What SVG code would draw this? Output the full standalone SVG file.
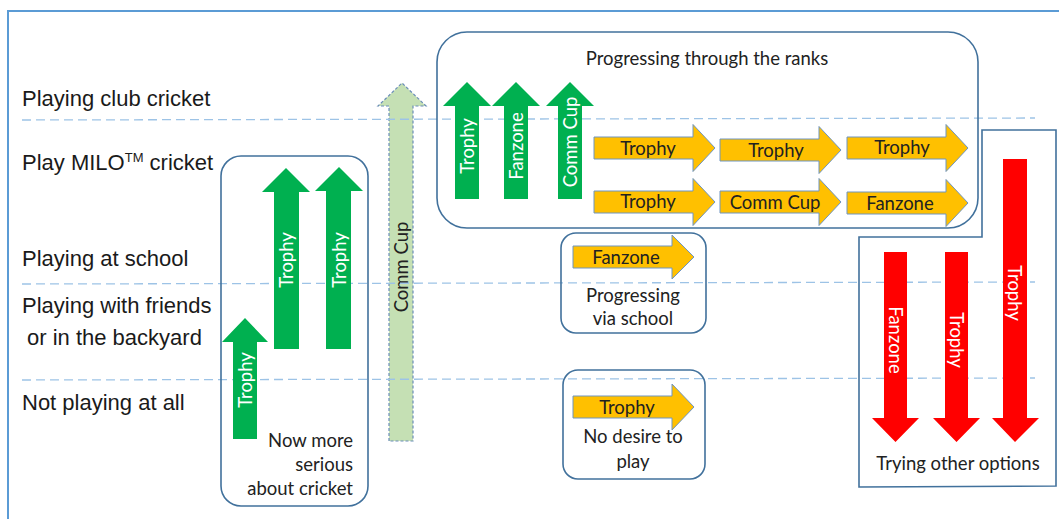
<svg xmlns="http://www.w3.org/2000/svg" width="1059" height="519" viewBox="0 0 1059 519">
<style>
.lbl{font-family:"Liberation Sans",Arial,sans-serif;font-size:22px;fill:#1a1a1a}
.c{font-family:Lato,"Open Sans",sans-serif;font-size:18.5px;text-anchor:middle}
.dark{fill:#222}
.wt{fill:#fff}
.dash{stroke:#9DC3E6;stroke-width:1.3;stroke-dasharray:9 5;fill:none}
.box{fill:none;stroke:#41719C;stroke-width:1.6}
.g{fill:#00B050}
.o{fill:#FFC000;stroke:#6F95C0;stroke-width:1}
.r{fill:#FF0000}
.lg{fill:#C5E0B4;stroke:#6A8DB8;stroke-width:1.2;stroke-dasharray:3 2}
</style>
<rect x="0" y="0" width="1059" height="519" fill="#fff"/>
<rect x="8" y="11" width="1100" height="600" fill="none" stroke="#5B9BD5" stroke-width="2"/>
<g id="commcup">
<path class="lg" d="M389,441 L389,106 L378,106 L402,83 L426,106 L413,106 L413,441 Z"/>
<text class="c dark" transform="translate(401,267) rotate(-90)" dominant-baseline="central">Comm Cup</text>
</g>
<g id="levels">
<line class="dash" x1="22" y1="120" x2="1035" y2="118"/>
<line class="dash" x1="22" y1="284" x2="1035" y2="282"/>
<line class="dash" x1="22" y1="380" x2="1035" y2="378"/>
<text class="lbl" x="22" y="106">Playing club cricket</text>
<text class="lbl" x="22" y="170">Play MILO<tspan font-size="13" dy="-8">TM</tspan><tspan dy="8"> cricket</tspan></text>
<text class="lbl" x="22" y="266">Playing at school</text>
<text class="lbl" x="22" y="313">Playing with friends</text>
<text class="lbl" x="27" y="345">or in the backyard</text>
<text class="lbl" x="22" y="410">Not playing at all</text>
</g>
<g id="serious">
<rect class="box" x="221" y="156" width="147" height="350" rx="20"/>
<path class="g" d="M233,439 L233,342 L222,342 L245,318 L268,342 L257,342 L257,439 Z"/>
<text class="c wt" transform="translate(245,380) rotate(-90)" dominant-baseline="central">Trophy</text>
<path class="g" d="M274,349 L274,192 L262,192 L286,168 L310,192 L299,192 L299,349 Z"/>
<text class="c wt" transform="translate(286,260) rotate(-90)" dominant-baseline="central">Trophy</text>
<path class="g" d="M326,349 L326,191 L315,191 L339,167 L363,191 L351,191 L351,349 Z"/>
<text class="c wt" transform="translate(339,260) rotate(-90)" dominant-baseline="central">Trophy</text>
<text class="c dark" x="353" y="447" style="text-anchor:end">Now more</text>
<text class="c dark" x="353" y="471" style="text-anchor:end">serious</text>
<text class="c dark" x="353" y="495" style="text-anchor:end">about cricket</text>
</g>
<g id="ranks">
<rect class="box" x="437" y="32" width="541" height="196" rx="30"/>
<text class="c dark" x="707" y="65">Progressing through the ranks</text>
<path class="g" d="M455,199 L455,106 L443,106 L467,82 L491,106 L479,106 L479,199 Z"/>
<text class="c wt" transform="translate(467,146) rotate(-90)" dominant-baseline="central">Trophy</text>
<path class="g" d="M504,199 L504,106 L492,106 L516,82 L540,106 L528,106 L528,199 Z"/>
<text class="c wt" transform="translate(516,146) rotate(-90)" dominant-baseline="central">Fanzone</text>
<path class="g" d="M558,199 L558,106 L546,106 L570,82 L594,106 L582,106 L582,199 Z"/>
<text class="c wt" transform="translate(570,142) rotate(-90)" dominant-baseline="central">Comm Cup</text>
<path class="o" d="M594,137 L693,137 L693,124.5 L715,148 L693,171.5 L693,159 L594,159 Z"/>
<text class="c dark" x="648" y="155">Trophy</text>
<path class="o" d="M720,139 L819,139 L819,126.5 L841,150 L819,173.5 L819,161 L720,161 Z"/>
<text class="c dark" x="776" y="157">Trophy</text>
<path class="o" d="M847,137 L946,137 L946,124.5 L968,148 L946,171.5 L946,159 L847,159 Z"/>
<text class="c dark" x="902" y="154">Trophy</text>
<path class="o" d="M594,191 L693,191 L693,178.5 L715,202 L693,225.5 L693,213 L594,213 Z"/>
<text class="c dark" x="648" y="208">Trophy</text>
<path class="o" d="M720,191 L819,191 L819,178.5 L841,202 L819,225.5 L819,213 L720,213 Z"/>
<text class="c dark" x="775" y="209">Comm Cup</text>
<path class="o" d="M847,192 L946,192 L946,179.5 L968,203 L946,226.5 L946,214 L847,214 Z"/>
<text class="c dark" x="900" y="210">Fanzone</text>
</g>
<g id="school">
<rect class="box" x="561" y="233" width="145" height="100" rx="15"/>
<path class="o" d="M573,246 L672,246 L672,235 L694,257 L672,279 L672,268 L573,268 Z"/>
<text class="c dark" x="626" y="264">Fanzone</text>
<text class="c dark" x="633" y="302">Progressing</text>
<text class="c dark" x="633" y="325">via school</text>
</g>
<g id="nodesire">
<rect class="box" x="563" y="370" width="142" height="109" rx="15"/>
<path class="o" d="M573,396 L672,396 L672,384 L694,407 L672,430 L672,418 L573,418 Z"/>
<text class="c dark" x="627" y="414">Trophy</text>
<text class="c dark" x="633" y="443">No desire to</text>
<text class="c dark" x="633" y="468">play</text>
</g>
<g id="other">
<path class="box" d="M982,130 L1056,130 L1056,486 L859,487 L859,237 L982,237 Z"/>
<path class="r" d="M884,252 L907,252 L907,418 L919,418 L895.5,442 L872,418 L884,418 Z"/>
<text class="c wt" transform="translate(895.5,340) rotate(90)" dominant-baseline="central">Fanzone</text>
<path class="r" d="M945,252 L968,252 L968,418 L980,418 L956.5,442 L933,418 L945,418 Z"/>
<text class="c wt" transform="translate(956.5,340) rotate(90)" dominant-baseline="central">Trophy</text>
<path class="r" d="M1003,159 L1027,159 L1027,418 L1039,418 L1015,442 L992,418 L1003,418 Z"/>
<text class="c wt" transform="translate(1015,293) rotate(90)" dominant-baseline="central">Trophy</text>
<text class="c dark" x="958" y="470">Trying other options</text>
</g>
</svg>
